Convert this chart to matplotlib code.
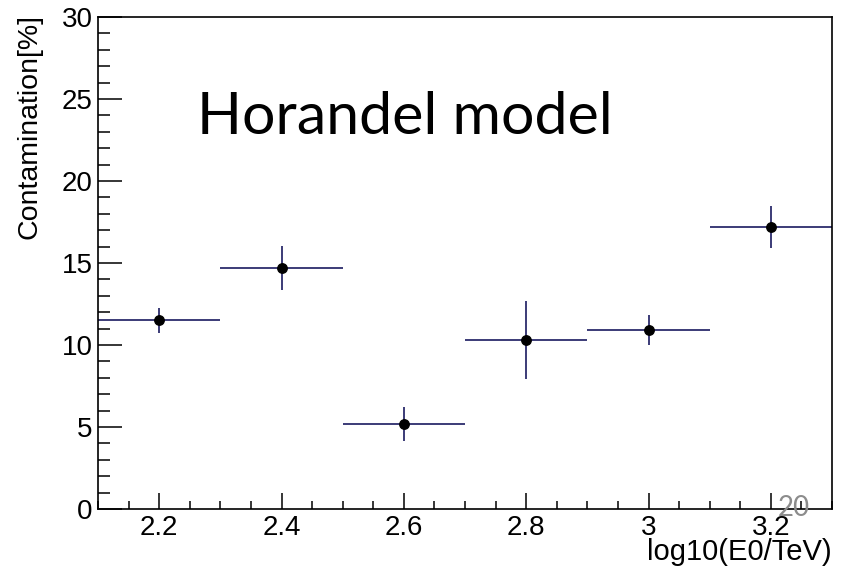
import matplotlib
matplotlib.use("Agg")
import matplotlib.pyplot as plt
from matplotlib.ticker import MultipleLocator

# Binned contamination estimates
energy_bins = [2.2, 2.4, 2.6, 2.8, 3.0, 3.2]          # log10(E0/TeV) bin centres
bin_half_width = [0.1, 0.1, 0.1, 0.1, 0.1, 0.1]
contamination = [11.5, 14.7, 5.2, 10.3, 10.9, 17.2]   # percent
contamination_err = [0.75, 1.35, 1.05, 2.4, 0.9, 1.3]

x_tick_values = [2.2, 2.4, 2.6, 2.8, 3.0, 3.2]
x_tick_labels = ["2.2", "2.4", "2.6", "2.8", "3", "3.2"]
y_tick_values = [0, 5, 10, 15, 20, 25, 30]
y_tick_labels = ["0", "5", "10", "15", "20", "25", "30"]

W, H = 848, 571
fig = plt.figure(figsize=(W / 100, H / 100), dpi=100)
fig.patch.set_facecolor("white")

left, right, top, bottom = 98, 832, 17, 509
ax = fig.add_axes([left / W, (H - bottom) / H, (right - left) / W, (bottom - top) / H])

ax.errorbar(energy_bins, contamination, xerr=bin_half_width, yerr=contamination_err,
            fmt="none", ecolor="#2c2c6c", elinewidth=1.3, capsize=0, zorder=2)
ax.plot(energy_bins, contamination, "o", color="black", markersize=6.8, zorder=3)

ax.set_xlim(2.1, 3.3)
ax.set_ylim(0, 30)

for s in ax.spines.values():
    s.set_linewidth(1.2)
    s.set_color("black")

ax.set_xticks(x_tick_values)
ax.set_xticklabels(x_tick_labels)
ax.set_yticks(y_tick_values)
ax.set_yticklabels(y_tick_labels)
ax.xaxis.set_minor_locator(MultipleLocator(0.05))
ax.yaxis.set_minor_locator(MultipleLocator(1))

for lab in ax.get_xticklabels() + ax.get_yticklabels():
    lab.set_fontfamily("Liberation Sans")
    lab.set_fontsize(20)

ax.tick_params(axis="y", which="major", direction="in", length=17, width=1.1, pad=4,
               left=True, right=False)
ax.tick_params(axis="y", which="minor", direction="in", length=8.5, width=1.1,
               left=True, right=False)
ax.tick_params(axis="x", which="major", direction="in", length=11.5, width=1.1, pad=4,
               bottom=True, top=False)
ax.tick_params(axis="x", which="minor", direction="in", length=5.5, width=1.1,
               bottom=True, top=False)

# Axis titles, ROOT style: aligned to the far end of each axis
fig.text(right / W, 1 - 538 / H, "log10(E0/TeV)", ha="right", va="top",
         fontfamily="Liberation Sans", fontsize=21)
fig.text(30 / W, 1 - 14 / H, "Contamination[%]", ha="center", va="top", rotation=90,
         fontfamily="Liberation Sans", fontsize=20.5)

# Model annotation
fig.text(197 / W, 1 - 134 / H, "Horandel model", ha="left", va="baseline",
         fontfamily="Lato", fontsize=42.5, color="black")

# Page number
fig.text(778 / W, 1 - 516 / H, "20", ha="left", va="baseline",
         fontfamily="Lato", fontsize=20, color="#8c8c8c")

fig.savefig("out.png", dpi=100, facecolor="white")
